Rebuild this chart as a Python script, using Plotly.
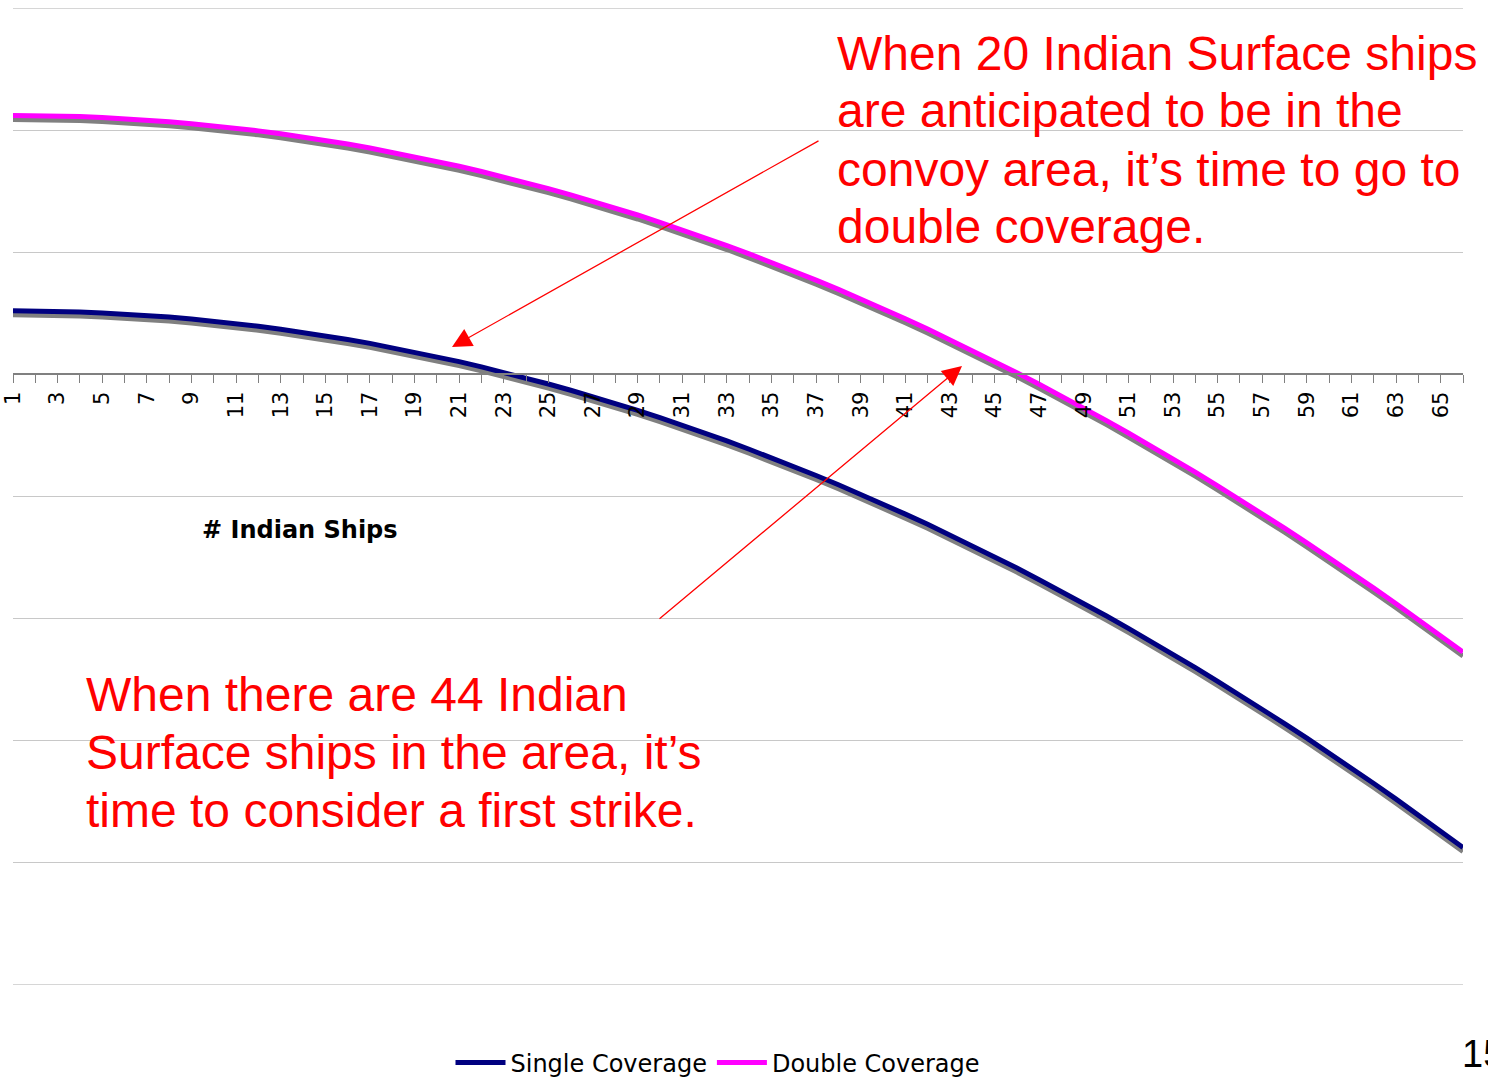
import plotly.graph_objects as go

# Number of Indian surface ships in the convoy area (category axis)
ships = list(range(1, 67))
tick_labels = [str(n) if n % 2 == 1 else "" for n in ships]

# Series values (gridline step = 1 unit, x axis crosses at 0)
single_coverage = [
    0.520, 0.519, 0.516, 0.511, 0.503, 0.494, 0.483, 0.469, 0.453, 0.436,
    0.416, 0.394, 0.370, 0.344, 0.316, 0.286, 0.254, 0.219, 0.183, 0.145,
    0.104, 0.061, 0.017, -0.030, -0.079, -0.130, -0.183, -0.238, -0.295, -0.355,
    -0.416, -0.479, -0.545, -0.613, -0.682, -0.754, -0.828, -0.904, -0.982, -1.062,
    -1.144, -1.228, -1.315, -1.403, -1.493, -1.586, -1.681, -1.777, -1.876, -1.977,
    -2.080, -2.185, -2.292, -2.401, -2.513, -2.626, -2.741, -2.859, -2.979, -3.100,
    -3.224, -3.350, -3.478, -3.608, -3.740, -3.874,
]
double_coverage = [
    2.120, 2.119, 2.116, 2.111, 2.103, 2.094, 2.083, 2.069, 2.053, 2.036,
    2.016, 1.994, 1.970, 1.944, 1.916, 1.886, 1.854, 1.819, 1.783, 1.745,
    1.704, 1.661, 1.617, 1.570, 1.521, 1.470, 1.417, 1.362, 1.305, 1.245,
    1.184, 1.121, 1.055, 0.987, 0.918, 0.846, 0.772, 0.696, 0.618, 0.538,
    0.456, 0.372, 0.285, 0.197, 0.107, 0.014, -0.081, -0.177, -0.276, -0.377,
    -0.480, -0.585, -0.692, -0.801, -0.913, -1.026, -1.141, -1.259, -1.379, -1.500,
    -1.624, -1.750, -1.878, -2.008, -2.140, -2.274,
]

W, H = 1488, 1079
ML, MR, MT, MB = 13, 25, 8, 94
PW, PH = W - ML - MR, H - MT - MB
Y_MIN, Y_MAX = -5, 3
X_MIN, X_MAX = 1, 66
GRID_COLOR = "#c8c8c8"


def px(x):
    return (x - ML) / PW


def py(y):
    return (H - MB - y) / PH


# drop shadow offset, 4 px downward expressed in y units
SHADOW_DY = 4 * (Y_MAX - Y_MIN) / PH

fig = go.Figure()

for vals in (single_coverage, double_coverage):
    fig.add_trace(go.Scatter(
        x=ships, y=[v - SHADOW_DY for v in vals], mode="lines",
        line=dict(color="#808080", width=5),
        showlegend=False, hoverinfo="skip",
    ))

fig.add_trace(go.Scatter(
    x=ships, y=single_coverage, mode="lines", name="Single Coverage",
    line=dict(color="#000080", width=5),
))
fig.add_trace(go.Scatter(
    x=ships, y=double_coverage, mode="lines", name="Double Coverage",
    line=dict(color="#FF00FF", width=5),
))

zero_pos = (0 - Y_MIN) / (Y_MAX - Y_MIN)

fig.update_layout(
    width=W, height=H,
    margin=dict(l=ML, r=MR, t=MT, b=MB, autoexpand=False),
    paper_bgcolor="white", plot_bgcolor="white",
    font=dict(family="DejaVu Sans", color="black"),
    xaxis=dict(
        range=[X_MIN, X_MAX], anchor="free", position=zero_pos,
        tickmode="array", tickvals=ships, ticktext=tick_labels,
        tickangle=-90, ticks="outside", ticklen=8, tickwidth=1.3,
        tickcolor="#808080", showline=True, linecolor="#808080", linewidth=1.5,
        showgrid=False, zeroline=False, automargin=False,
        tickfont=dict(family="DejaVu Sans", size=21, color="black"),
    ),
    yaxis=dict(
        range=[Y_MIN, Y_MAX], dtick=1, tick0=0, showgrid=True,
        gridcolor=GRID_COLOR, gridwidth=1.3, showticklabels=False,
        zeroline=False, showline=False, ticks="", automargin=False,
    ),
    legend=dict(
        orientation="h", x=px(718), y=py(1063), xanchor="center",
        yanchor="middle", font=dict(family="DejaVu Sans", size=24, color="black"),
        bgcolor="rgba(0,0,0,0)", itemwidth=50, tracegroupgap=0,
    ),
    showlegend=True,
)

# outer gridlines at the top and bottom of the value range
for yv in (Y_MIN, Y_MAX):
    fig.add_shape(
        type="line", xref="paper", yref="y", x0=0, x1=1, y0=yv, y1=yv,
        line=dict(color=GRID_COLOR, width=1.3), layer="below",
    )

annotations = []

# axis title placed inside the plot area
annotations.append(dict(
    x=px(300), y=py(530), xref="paper", yref="paper", text="<b># Indian Ships</b>",
    showarrow=False, xanchor="center", yanchor="middle",
    font=dict(family="DejaVu Sans", size=24, color="black"),
))

red_font = dict(family="Liberation Sans", size=48, color="#FF0000")
top_lines = [
    ("When 20 Indian Surface ships", 53),
    ("are anticipated to be in the", 111),
    ("convoy area, it’s time to go to", 169),
    ("double coverage.", 227),
]
for txt, yy in top_lines:
    annotations.append(dict(
        x=px(835), y=py(yy), xref="paper", yref="paper", text=txt,
        showarrow=False, xanchor="left", yanchor="middle", font=red_font,
    ))

bottom_lines = [
    ("When there are 44 Indian", 694),
    ("Surface ships in the area, it’s", 752),
    ("time to consider a first strike.", 810),
]
for txt, yy in bottom_lines:
    annotations.append(dict(
        x=px(84), y=py(yy), xref="paper", yref="paper", text=txt,
        showarrow=False, xanchor="left", yanchor="middle", font=red_font,
    ))

# pointer arrows
for head, tail in (((452, 347), (820, 140)), ((962, 366), (658, 620))):
    annotations.append(dict(
        x=px(head[0]), y=py(head[1]), xref="paper", yref="paper", text="",
        showarrow=True, ax=tail[0] - head[0], ay=tail[1] - head[1],
        arrowhead=2, arrowsize=3, arrowwidth=1.3, arrowcolor="#FF0000",
        standoff=0,
    ))

# slide number
annotations.append(dict(
    x=px(1460), y=py(1054), xref="paper", yref="paper", text="15",
    showarrow=False, xanchor="left", yanchor="middle",
    font=dict(family="Liberation Sans", size=38, color="black"),
))

fig.update_layout(annotations=annotations)

fig.write_html("out.html")
